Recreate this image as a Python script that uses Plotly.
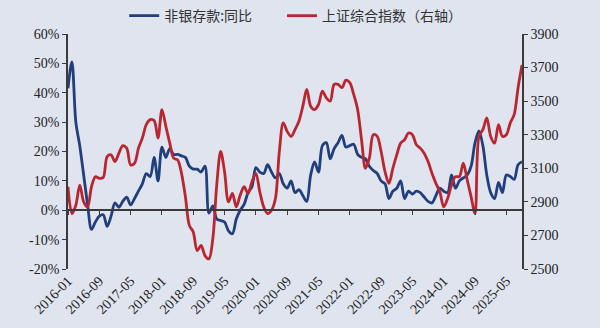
import pandas as pd
import plotly.graph_objects as go

# Monthly observations, 2016-01 .. 2025-09
months = pd.date_range("2016-01-01", "2025-09-01", freq="MS").strftime("%Y-%m").tolist()

# 非银存款 同比 (%)
deposit_yoy = [
    41.5, 50.5, 30.0, 22.0, 12.0, 2.0, -6.5, -4.0, -2.0, -1.5,
    -5.5, -2.0, 2.5, 1.0, 3.0, 4.5, 1.8, 4.0, 6.5, 9.0,
    12.5, 11.5, 18.0, 10.0, 21.5, 18.0, 21.0, 19.0, 19.0, 18.5,
    18.0, 15.0, 14.0, 14.0, 13.0, 15.0, -1.0, 1.5, -3.0, -3.5,
    -4.0, -7.0, -8.0, -3.0, 0.0, 2.0, 6.0, 8.0, 14.5, 13.0,
    12.5, 15.5, 13.0, 11.0, 12.5, 9.0, 7.5, 10.0, 6.0, 7.0,
    5.0, 3.0, 12.0, 16.5, 13.0, 22.0, 23.0, 17.5, 21.0, 23.0,
    25.5, 21.5, 22.0, 22.5, 19.0, 18.0, 17.5, 15.0, 13.5, 12.5,
    10.0, 9.0, 4.0, 6.5, 7.5, 10.0, 4.0, 6.5, 5.5, 6.5,
    6.0, 4.5, 3.0, 2.5, 5.0, 7.5, 6.5, 6.0, 12.0, 7.5,
    10.0, 11.0, 12.0, 15.0, 23.0, 27.0, 22.0, 12.0, 6.0, 4.0,
    9.5, 6.0, 12.0, 11.5, 10.5, 15.5, 16.5,
]

# 上证综合指数
sse_index = [
    2990, 2830, 2880, 3000, 2900, 2870, 2990, 3050, 3040, 3045,
    3170, 3180, 3140, 3190, 3235, 3220, 3120, 3130, 3220, 3280,
    3360, 3390, 3385, 3280, 3450, 3350, 3250, 3160, 3150, 3070,
    2930, 2760, 2720, 2610, 2640, 2580, 2560, 2680, 3000, 3200,
    3080, 2900, 2950, 2870, 2940, 2990, 2950, 3020, 3070, 2960,
    2870, 2830, 2850, 2920, 3200, 3370, 3320, 3290, 3330, 3380,
    3470, 3570, 3470, 3450, 3480, 3560, 3520, 3500, 3600, 3600,
    3580, 3625, 3610, 3540, 3450, 3270, 3100, 3160, 3300, 3290,
    3200, 3080, 3010, 3100, 3180, 3250, 3270, 3310, 3300, 3240,
    3220, 3190, 3140, 3070, 3010, 2960, 2870, 2920, 3000, 3050,
    3050, 3130, 3030, 2930, 2830, 3290, 3330, 3400, 3290, 3250,
    3360, 3290, 3300, 3370, 3420, 3580, 3715,
]

# Axis ticks
x_ticks = months[::8]
left_ticks = [-20, -10, 0, 10, 20, 30, 40, 50, 60]
right_ticks = [2500, 2700, 2900, 3100, 3300, 3500, 3700, 3900]

BLUE = "#213f7c"
RED = "#b9262f"
AXIS = "#3a3a3a"
BG = "#dfe4ef"
tick_font = dict(family="Liberation Serif, Times New Roman, serif", size=14, color="#222222")
legend_font = dict(family="Noto Sans CJK SC", size=14, color="#333333")

fig = go.Figure()
fig.add_trace(go.Scatter(
    x=months, y=deposit_yoy, name="非银存款:同比", mode="lines",
    line=dict(color=BLUE, width=2.8, shape="spline", smoothing=0.9),
    xaxis="x", yaxis="y", legend="legend",
))
fig.add_trace(go.Scatter(
    x=months, y=sse_index, name="上证综合指数（右轴）", mode="lines",
    line=dict(color=RED, width=2.8, shape="spline", smoothing=0.9),
    xaxis="x", yaxis="y2", legend="legend2",
))
# carrier for the baseline axis drawn through 0%
fig.add_trace(go.Scatter(
    x=months, y=[None] * len(months), mode="lines", showlegend=False,
    hoverinfo="skip", xaxis="x2", yaxis="y",
))

x_range = [0, len(months) - 1]
legend_common = dict(
    orientation="h", xanchor="left", xref="container",
    yref="container", y=0.951, yanchor="middle",
    font=legend_font, bgcolor="rgba(0,0,0,0)", itemwidth=30,
)

fig.update_layout(
    width=600, height=328,
    margin=dict(l=68, r=78, t=34, b=59, autoexpand=False),
    paper_bgcolor=BG, plot_bgcolor=BG,
    showlegend=True,
    legend=dict(x=0.207, **legend_common),
    legend2=dict(x=0.47, **legend_common),
    xaxis=dict(
        type="category", categoryorder="array", categoryarray=months,
        range=x_range, tickmode="array", tickvals=x_ticks, ticktext=x_ticks,
        tickangle=-45, showline=False, showgrid=False, zeroline=False,
        ticks="", tickfont=tick_font,
    ),
    xaxis2=dict(
        type="category", categoryorder="array", categoryarray=months,
        range=x_range, overlaying="x", anchor="free", position=0.25,
        side="bottom", tickmode="array", tickvals=x_ticks,
        showticklabels=False, showline=True, linecolor=AXIS, linewidth=1.5,
        ticks="outside", ticklen=4, tickcolor=AXIS, tickwidth=1.2,
        showgrid=False, zeroline=False,
    ),
    yaxis=dict(
        range=[-20, 60], tickmode="array", tickvals=left_ticks,
        ticktext=[f"{v}%" for v in left_ticks],
        showline=True, linecolor=AXIS, linewidth=1.5,
        ticks="outside", ticklen=4, tickcolor=AXIS, tickwidth=1.2,
        showgrid=False, zeroline=False, tickfont=tick_font,
    ),
    yaxis2=dict(
        range=[2500, 3900], overlaying="y", side="right", anchor="x",
        tickmode="array", tickvals=right_ticks,
        showline=True, linecolor=AXIS, linewidth=1.5,
        ticks="outside", ticklen=4, tickcolor=AXIS, tickwidth=1.2,
        showgrid=False, zeroline=False, tickfont=tick_font,
    ),
)

fig.write_html("out.html")
